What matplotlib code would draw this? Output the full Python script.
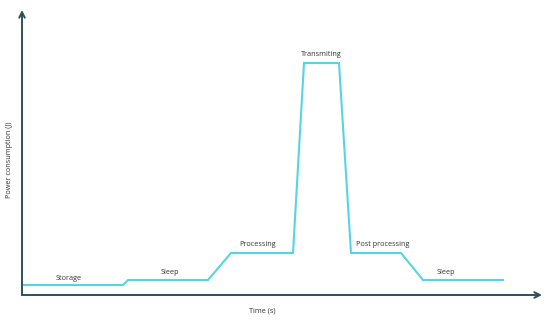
import matplotlib.pyplot as plt

plt.rcParams['font.family'] = ['Open Sans', 'DejaVu Sans']

# power profile (arbitrary units)
time = [0, 101, 106, 186, 209, 271, 282, 317, 329, 379, 401, 481]
power = [10, 10, 15, 15, 42, 42, 232, 232, 42, 42, 15, 15]

phases = ['Storage', 'Sleep', 'Processing', 'Transmiting', 'Post processing', 'Sleep']
phase_x = [47, 148, 236, 299, 361, 424]
phase_y = [17, 23, 51, 241, 50, 22]

axis_col = '#2f4f5f'
line_col = '#56d4e4'

fig = plt.figure(figsize=(5.5, 3.22), dpi=100)
ax = fig.add_axes([22 / 550, 27 / 322, 520 / 550, 285 / 322])
ax.set_xlim(0, 520)
ax.set_ylim(0, 285)
for s in ax.spines.values():
    s.set_visible(False)
ax.set_xticks([])
ax.set_yticks([])

# axes with arrows
ax.annotate('', xy=(520, 0), xytext=(0, 0),
            arrowprops=dict(arrowstyle='->', color=axis_col, lw=1.4, shrinkA=0, shrinkB=0),
            annotation_clip=False)
ax.annotate('', xy=(0, 285), xytext=(0, 0),
            arrowprops=dict(arrowstyle='->', color=axis_col, lw=1.4, shrinkA=0, shrinkB=0),
            annotation_clip=False)

ax.plot(time, power, color=line_col, lw=1.5, solid_joinstyle='miter')

for name, x, y in zip(phases, phase_x, phase_y):
    ax.text(x, y, name, ha='center', va='center', fontsize=5.2, color='#333333')

ax.text(240, -16, 'Time (s)', ha='center', va='center', fontsize=5.2, color='#333333')
ax.text(-12, 135, 'Power consumption (J)', ha='center', va='center', rotation=90,
        fontsize=5.2, color='#333333')

fig.savefig('out.png', dpi=100)
